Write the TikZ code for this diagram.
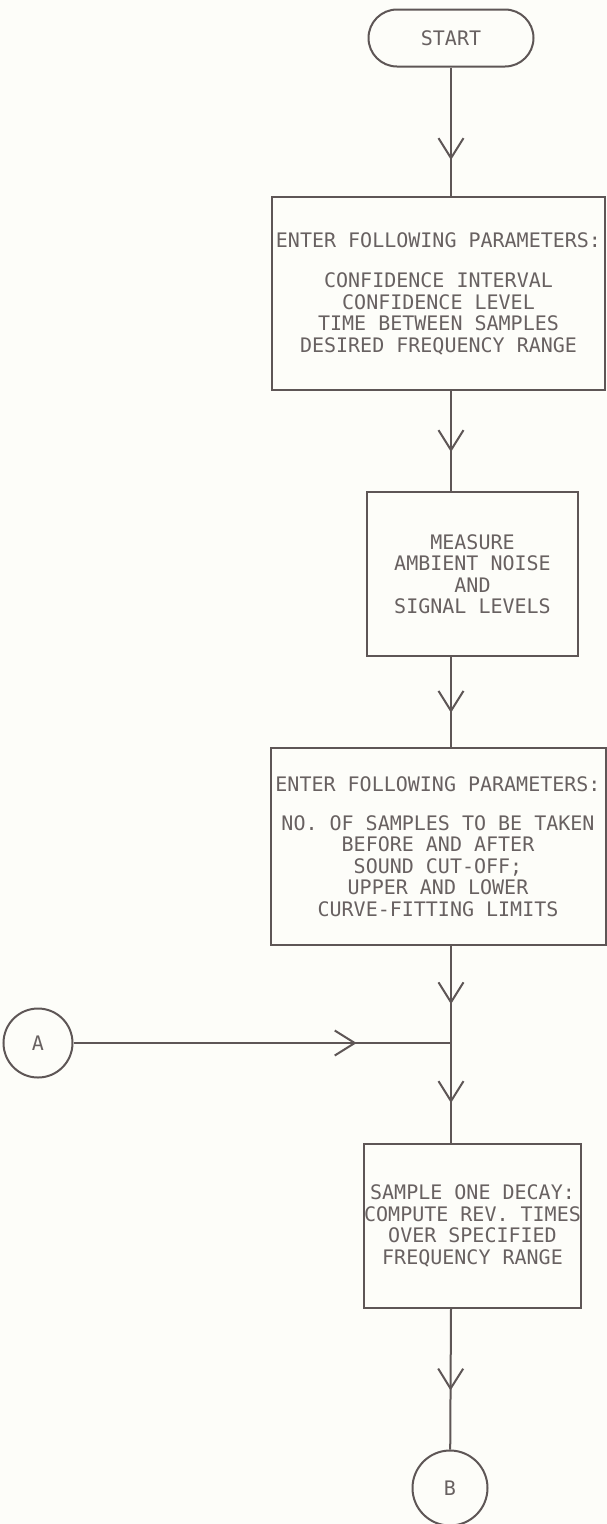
\documentclass[tikz,border=0pt]{standalone}
\usepackage{fontspec}
\setmonofont{DejaVu Sans Mono}
\usepackage{xcolor}
\usepackage{tikz}
\usetikzlibrary{positioning, arrows.meta, shapes.misc, decorations.markings, calc}

\definecolor{paper}{RGB}{253,253,249}
\definecolor{ink}{RGB}{94,86,86}
\definecolor{letter}{RGB}{104,97,97}

\begin{document}
\begin{tikzpicture}[
        x=1pt, y=-1pt,
        every node/.style={inner sep=0pt, text=letter, font=\ttfamily\fontsize{20}{21.5}\selectfont},
        terminal/.style={draw=ink, line width=2pt, rounded rectangle, minimum width=165pt, minimum height=57pt},
        procbox/.style={draw=ink, line width=2pt, rectangle, align=center},
        connector/.style={draw=ink, line width=2pt, circle, minimum size=#1},
        connector/.default=75pt,
        flow/.style={draw=ink, line width=2pt,
            decoration={markings, mark=at position #1 with {\arrow{Straight Barb[length=20pt, width=25pt, line width=2pt]}}},
            postaction={decorate}},
        flow/.default=0.6
    ]
    \fill[paper] (0,0) rectangle (607,1524);
    \useasboundingbox (0,0) rectangle (607,1524);

    % --- Start ---
    \node[terminal] (start) at (451, 38) {START};

    % --- Parameter entry ---
    \node[procbox, minimum width=333pt, minimum height=193pt] (params) at (438.5, 293.5)
        {ENTER FOLLOWING PARAMETERS:\\[19pt]CONFIDENCE INTERVAL\\CONFIDENCE LEVEL\\TIME BETWEEN SAMPLES\\DESIRED FREQUENCY RANGE};

    % --- Measurement ---
    \node[procbox, minimum width=211pt, minimum height=164pt] (measure) at (472.5, 574)
        {MEASURE\\AMBIENT NOISE\\AND\\SIGNAL LEVELS};

    % --- Sampling parameters ---
    \node[procbox, minimum width=335pt, minimum height=197pt] (limits) at (438, 846.5)
        {ENTER FOLLOWING PARAMETERS:\\[17pt]NO. OF SAMPLES TO BE TAKEN\\BEFORE AND AFTER\\SOUND CUT-OFF;\\UPPER AND LOWER\\CURVE-FITTING LIMITS};

    % --- Off-page connectors ---
    \node[connector=69pt] (conA) at (38, 1043) {A};
    \coordinate (join) at (451, 1043);

    % --- Decay sampling ---
    \node[procbox, minimum width=211pt, minimum height=164pt] (decay) at (472.5, 1226)
        {SAMPLE ONE DECAY:\\COMPUTE REV. TIMES\\OVER SPECIFIED\\FREQUENCY RANGE};

    \node[connector] (conB) at (450, 1488) {B};

    % --- Arrows ---
    \draw[flow=0.72] (start) -- (start |- params.north);
    \draw[flow=0.61] (start |- params.south) -- (start |- measure.north);
    \draw[flow=0.62] (start |- measure.south) -- (start |- limits.north);
    \draw[flow=0.6] (start |- limits.south) -- (join);
    \draw[flow=0.75] (conA) -- (join);
    \draw[flow=0.6] (join) -- (join |- decay.north);
    \draw[flow=0.58] (join |- decay.south) -- (conB);

    \end{tikzpicture}
\end{document}
